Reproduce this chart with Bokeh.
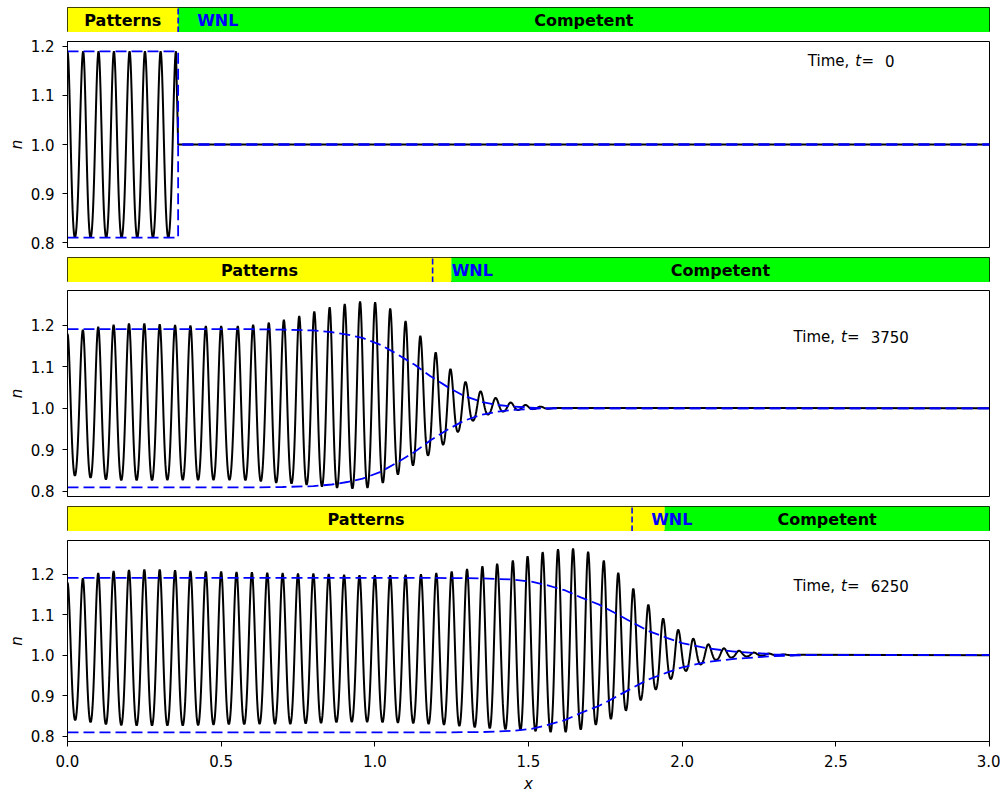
import numpy as np
from bokeh.plotting import figure
from bokeh.layouts import column
from bokeh.models import Range1d, FixedTicker, PrintfTickFormatter, Label
from bokeh.embed import file_html
from bokeh.resources import INLINE
from bokeh.core.properties import value

# ------------------------------------------------------------------ data
TIMES = [0, 3750, 6250]
FRONT_X = [0.36, 1.188, 1.837]          # dashed WNL front position
COMPETENT_X = [0.36, 1.249, 1.943]      # start of the green "Competent" zone
X_TICKS = [0.0, 0.5, 1.0, 1.5, 2.0, 2.5, 3.0]
Y_TICKS = [0.8, 0.9, 1.0, 1.1, 1.2]

# panel 1 (t = 0): extrema of n(x)
P1_PEAK_X = [0.0, 0.051, 0.101, 0.151, 0.202, 0.252, 0.303, 0.353]
P1_PEAK_N = [1.19, 1.19, 1.19, 1.19, 1.19, 1.19, 1.19, 1.19]
P1_TROUGH_X = [0.024, 0.075, 0.126, 0.176, 0.227, 0.278, 0.328]
P1_TROUGH_N = [0.81, 0.81, 0.81, 0.81, 0.81, 0.81, 0.81]
P1_TAIL_X = [0.36, 3.0]
P1_TAIL_N = [1.0, 1.0]
ENV1_X = [0.0, 0.36, 0.36, 3.0]
ENV1_UP = [1.19, 1.19, 1.0, 1.0]
ENV1_LO = [0.81, 0.81, 1.0, 1.0]

# panel 2 (t = 3750)
P2_PEAK_X = [0.0, 0.05, 0.10, 0.15, 0.20, 0.25, 0.30, 0.35, 0.40, 0.45, 0.50,
             0.554, 0.604, 0.655, 0.704, 0.754, 0.803, 0.853, 0.902, 0.952, 1.001,
             1.05, 1.10, 1.148, 1.198, 1.246, 1.295, 1.344, 1.393, 1.442, 1.49,
             1.539, 1.588]
P2_PEAK_N = [1.18, 1.19, 1.197, 1.202, 1.205, 1.205, 1.203, 1.201, 1.200, 1.199, 1.199,
             1.199, 1.202, 1.207, 1.214, 1.223, 1.234, 1.244, 1.252, 1.258, 1.256,
             1.241, 1.211, 1.175, 1.135, 1.095, 1.064, 1.041, 1.025, 1.014, 1.008,
             1.004, 1.001]
P2_TROUGH_X = [0.024, 0.075, 0.125, 0.175, 0.225, 0.275, 0.325, 0.375, 0.425, 0.475,
               0.527, 0.579, 0.629, 0.679, 0.729, 0.778, 0.828, 0.877, 0.927, 0.976,
               1.026, 1.075, 1.124, 1.173, 1.222, 1.27, 1.319, 1.368, 1.417, 1.466,
               1.514, 1.563]
P2_TROUGH_N = [0.837, 0.832, 0.828, 0.826, 0.826, 0.826, 0.827, 0.827, 0.827, 0.827,
               0.827, 0.826, 0.824, 0.820, 0.818, 0.815, 0.811, 0.808, 0.806, 0.808,
               0.820, 0.840, 0.862, 0.886, 0.912, 0.943, 0.970, 0.985, 0.992, 0.996,
               0.998, 0.999]
P2_TAIL_X = [3.0]
P2_TAIL_N = [1.0]
ENV2_X = [0.0, 0.6, 0.7, 0.8, 0.86, 0.91, 0.96, 1.02, 1.07, 1.13, 1.18, 1.24, 1.29,
          1.35, 1.40, 1.45, 1.55, 3.0]
ENV2_UP = [1.191, 1.191, 1.190, 1.188, 1.184, 1.178, 1.170, 1.153, 1.132, 1.105, 1.078,
           1.050, 1.030, 1.015, 1.008, 1.004, 1.0, 1.0]
ENV2_LO = [0.809, 0.809, 0.810, 0.812, 0.816, 0.822, 0.830, 0.847, 0.868, 0.895, 0.922,
           0.950, 0.970, 0.985, 0.992, 0.996, 1.0, 1.0]

# panel 3 (t = 6250)
P3_PEAK_X = [0.0, 0.05, 0.10, 0.15, 0.20, 0.25, 0.30, 0.35, 0.40, 0.45, 0.50, 0.55,
             0.60, 0.65, 0.70, 0.75, 0.80, 0.85, 0.90, 0.95, 1.00, 1.05, 1.10, 1.15,
             1.20, 1.25, 1.30, 1.35, 1.398, 1.449, 1.497, 1.546, 1.596, 1.645, 1.694,
             1.745, 1.792, 1.841, 1.890, 1.938, 1.987, 2.036, 2.085, 2.136, 2.185,
             2.233, 2.282, 2.331, 2.38]
P3_PEAK_N = [1.18, 1.190, 1.203, 1.208, 1.211, 1.212, 1.212, 1.210, 1.208, 1.207, 1.207,
             1.206, 1.205, 1.204, 1.203, 1.202, 1.202, 1.201, 1.199, 1.198, 1.198, 1.198,
             1.199, 1.200, 1.203, 1.207, 1.213, 1.220, 1.226, 1.234, 1.245, 1.255, 1.262,
             1.264, 1.256, 1.234, 1.204, 1.165, 1.125, 1.091, 1.063, 1.041, 1.027, 1.017,
             1.011, 1.0065, 1.004, 1.002, 1.001]
P3_TROUGH_X = [0.025, 0.075, 0.125, 0.175, 0.225, 0.275, 0.325, 0.375, 0.425, 0.475,
               0.525, 0.575, 0.625, 0.675, 0.725, 0.775, 0.825, 0.875, 0.925, 0.975,
               1.025, 1.075, 1.125, 1.175, 1.225, 1.275, 1.325, 1.374, 1.425, 1.474,
               1.523, 1.572, 1.621, 1.67, 1.719, 1.768, 1.817, 1.865, 1.914, 1.963,
               2.012, 2.06, 2.11, 2.16, 2.21, 2.258, 2.306, 2.355]
P3_TROUGH_N = [0.839, 0.834, 0.829, 0.827, 0.826, 0.826, 0.826, 0.826, 0.827, 0.828,
               0.829, 0.829, 0.830, 0.830, 0.830, 0.831, 0.832, 0.834, 0.835, 0.835,
               0.834, 0.833, 0.832, 0.830, 0.828, 0.825, 0.822, 0.819, 0.817, 0.815,
               0.812, 0.810, 0.810, 0.816, 0.828, 0.842, 0.863, 0.889, 0.915, 0.941,
               0.961, 0.977, 0.988, 0.994, 0.997, 0.999, 1.0, 1.0]
P3_TAIL_X = [3.0]
P3_TAIL_N = [1.0]
ENV3_X = [0.0, 1.2, 1.35, 1.45, 1.51, 1.56, 1.62, 1.67, 1.73, 1.78, 1.84, 1.89, 1.95,
          2.0, 2.08, 2.17, 2.3, 2.4, 3.0]
ENV3_UP = [1.191, 1.191, 1.190, 1.187, 1.182, 1.173, 1.160, 1.143, 1.125, 1.105, 1.080,
           1.060, 1.043, 1.030, 1.017, 1.009, 1.002, 1.0, 1.0]
ENV3_LO = [0.809, 0.809, 0.810, 0.813, 0.818, 0.827, 0.840, 0.857, 0.875, 0.895, 0.920,
           0.940, 0.957, 0.970, 0.983, 0.991, 0.998, 1.0, 1.0]

PANELS = [
    (P1_PEAK_X, P1_PEAK_N, P1_TROUGH_X, P1_TROUGH_N, P1_TAIL_X, P1_TAIL_N, ENV1_X, ENV1_UP, ENV1_LO),
    (P2_PEAK_X, P2_PEAK_N, P2_TROUGH_X, P2_TROUGH_N, P2_TAIL_X, P2_TAIL_N, ENV2_X, ENV2_UP, ENV2_LO),
    (P3_PEAK_X, P3_PEAK_N, P3_TROUGH_X, P3_TROUGH_N, P3_TAIL_X, P3_TAIL_N, ENV3_X, ENV3_UP, ENV3_LO),
]

# ------------------------------------------------------------------ style
FONT = "DejaVu Sans"
W = 1000
BL, BR = 67, 11
YELLOW, GREEN, BLUE = "#ffff00", "#00ff00", "#0000ff"


def shape(phi, r=0.1):
    # 0 at a maximum (phi=0), 1 at a minimum (phi=pi); sharper crests
    return (1 + r - np.cos(phi) - r * np.cos(2 * phi)) / 2


def trace(px, pv, tx, tv, tailx, tailn):
    ext = sorted(zip(list(px) + list(tx), list(pv) + list(tv)))
    xs, ys = [ext[0][0]], [ext[0][1]]
    s = np.linspace(0, 1, 17)[1:]
    for (x0, v0), (x1, v1) in zip(ext[:-1], ext[1:]):
        if v0 >= v1:
            y = v0 - (v0 - v1) * shape(np.pi * s)
        else:
            y = v1 - (v1 - v0) * shape(np.pi * (1 - s))
        xs.extend(list(x0 + (x1 - x0) * s))
        ys.extend(list(y))
    xs.extend(tailx)
    ys.extend(tailn)
    return xs, ys


def base(height, top, bottom, yr):
    p = figure(width=W, height=height, x_range=Range1d(0, 3), y_range=yr,
               toolbar_location=None, tools="", output_backend="svg", title=None,
               min_border_left=BL, min_border_right=BR,
               min_border_top=top, min_border_bottom=bottom)
    p.grid.visible = False
    p.outline_line_color = "black"
    p.outline_line_width = 1
    p.background_fill_color = "white"
    p.border_fill_color = "white"
    return p


def bar_fig(xf, xg, height, top):
    p = base(height, top, 0, Range1d(0, 1))
    p.axis.visible = False
    p.quad(left=[0, xg], right=[xg, 3], bottom=[0, 0], top=[1, 1],
           fill_color=[YELLOW, GREEN], line_color=None)
    p.segment(x0=[xf], y0=[0], x1=[xf], y1=[1], line_color=BLUE,
              line_width=1.6, line_dash="6 3")
    common = dict(text_baseline="middle", text_font=value(FONT),
                  text_font_style="bold", text_font_size="16px")
    p.text(x=[xg / 2, (xg + 3) / 2], y=[0.5, 0.5], text=["Patterns", "Competent"],
           text_align="center", text_color="black", **common)
    p.text(x=[xf + 0.062], y=[0.5], text=["WNL"], text_align="left",
           text_color=BLUE, **common)
    return p


def style_axes(p, show_x):
    for ax in [p.yaxis[0]] + ([p.xaxis[0]] if show_x else []):
        ax.major_tick_out = 5
        ax.major_tick_in = 0
        ax.minor_tick_line_color = None
        ax.major_tick_line_color = "black"
        ax.axis_line_color = "black"
        ax.major_label_text_font = FONT
        ax.major_label_text_font_size = "15px"
        ax.major_label_text_color = "black"
        ax.axis_label_text_font = FONT
        ax.axis_label_text_font_size = "15px"
        ax.axis_label_text_font_style = "italic"
        ax.axis_label_text_color = "black"
        ax.formatter = PrintfTickFormatter(format="%.1f")
    p.yaxis.ticker = FixedTicker(ticks=Y_TICKS)
    p.yaxis.axis_label = "n"
    p.yaxis.major_label_standoff = 8
    p.yaxis.axis_label_standoff = 2
    if show_x:
        p.xaxis.ticker = FixedTicker(ticks=X_TICKS)
        p.xaxis.axis_label = "x"
        p.xaxis.major_label_standoff = 8
        p.xaxis.axis_label_standoff = 5
    else:
        p.xaxis.visible = False


def main_fig(i, height, top, bottom, ylo, yhi, show_x):
    px, pv, tx, tv, tlx, tln, ex, eu, el = PANELS[i]
    p = base(height, top, bottom, Range1d(ylo, yhi))
    style_axes(p, show_x)
    xs, ys = trace(px, pv, tx, tv, tlx, tln)
    p.line(xs, ys, line_color="black", line_width=2)
    p.line(ex, eu, line_color=BLUE, line_width=1.8, line_dash="11 5")
    p.line(ex, el, line_color=BLUE, line_width=1.8, line_dash="11 5")
    s = str(TIMES[i])
    wid = 77.2 + 9.54 * len(s)
    x0 = -wid / 2
    for txt, off, sty in [("Time,", 0.0, "normal"), ("t", 47.5, "italic"),
                          ("=", 53.6, "normal"), (s, 77.2, "normal")]:
        p.add_layout(Label(x=2.55, y=1.171, x_units="data", y_units="data",
                           x_offset=x0 + off, text=txt, text_align="left",
                           text_baseline="middle", text_font=FONT,
                           text_font_size="15px", text_font_style=sty,
                           text_color="black"))
    return p


figs = [
    bar_fig(FRONT_X[0], COMPETENT_X[0], 32, 7),
    main_fig(0, 225, 9, 10, 0.79, 1.21, False),
    bar_fig(FRONT_X[1], COMPETENT_X[1], 25, 0),
    main_fig(1, 224, 8, 10, 0.787, 1.2845, False),
    bar_fig(FRONT_X[2], COMPETENT_X[2], 25, 0),
    main_fig(2, 264, 9, 50, 0.7866, 1.2836, True),
]

layout = column(*figs, spacing=0)
open("out.html", "w").write(file_html(layout, INLINE))
